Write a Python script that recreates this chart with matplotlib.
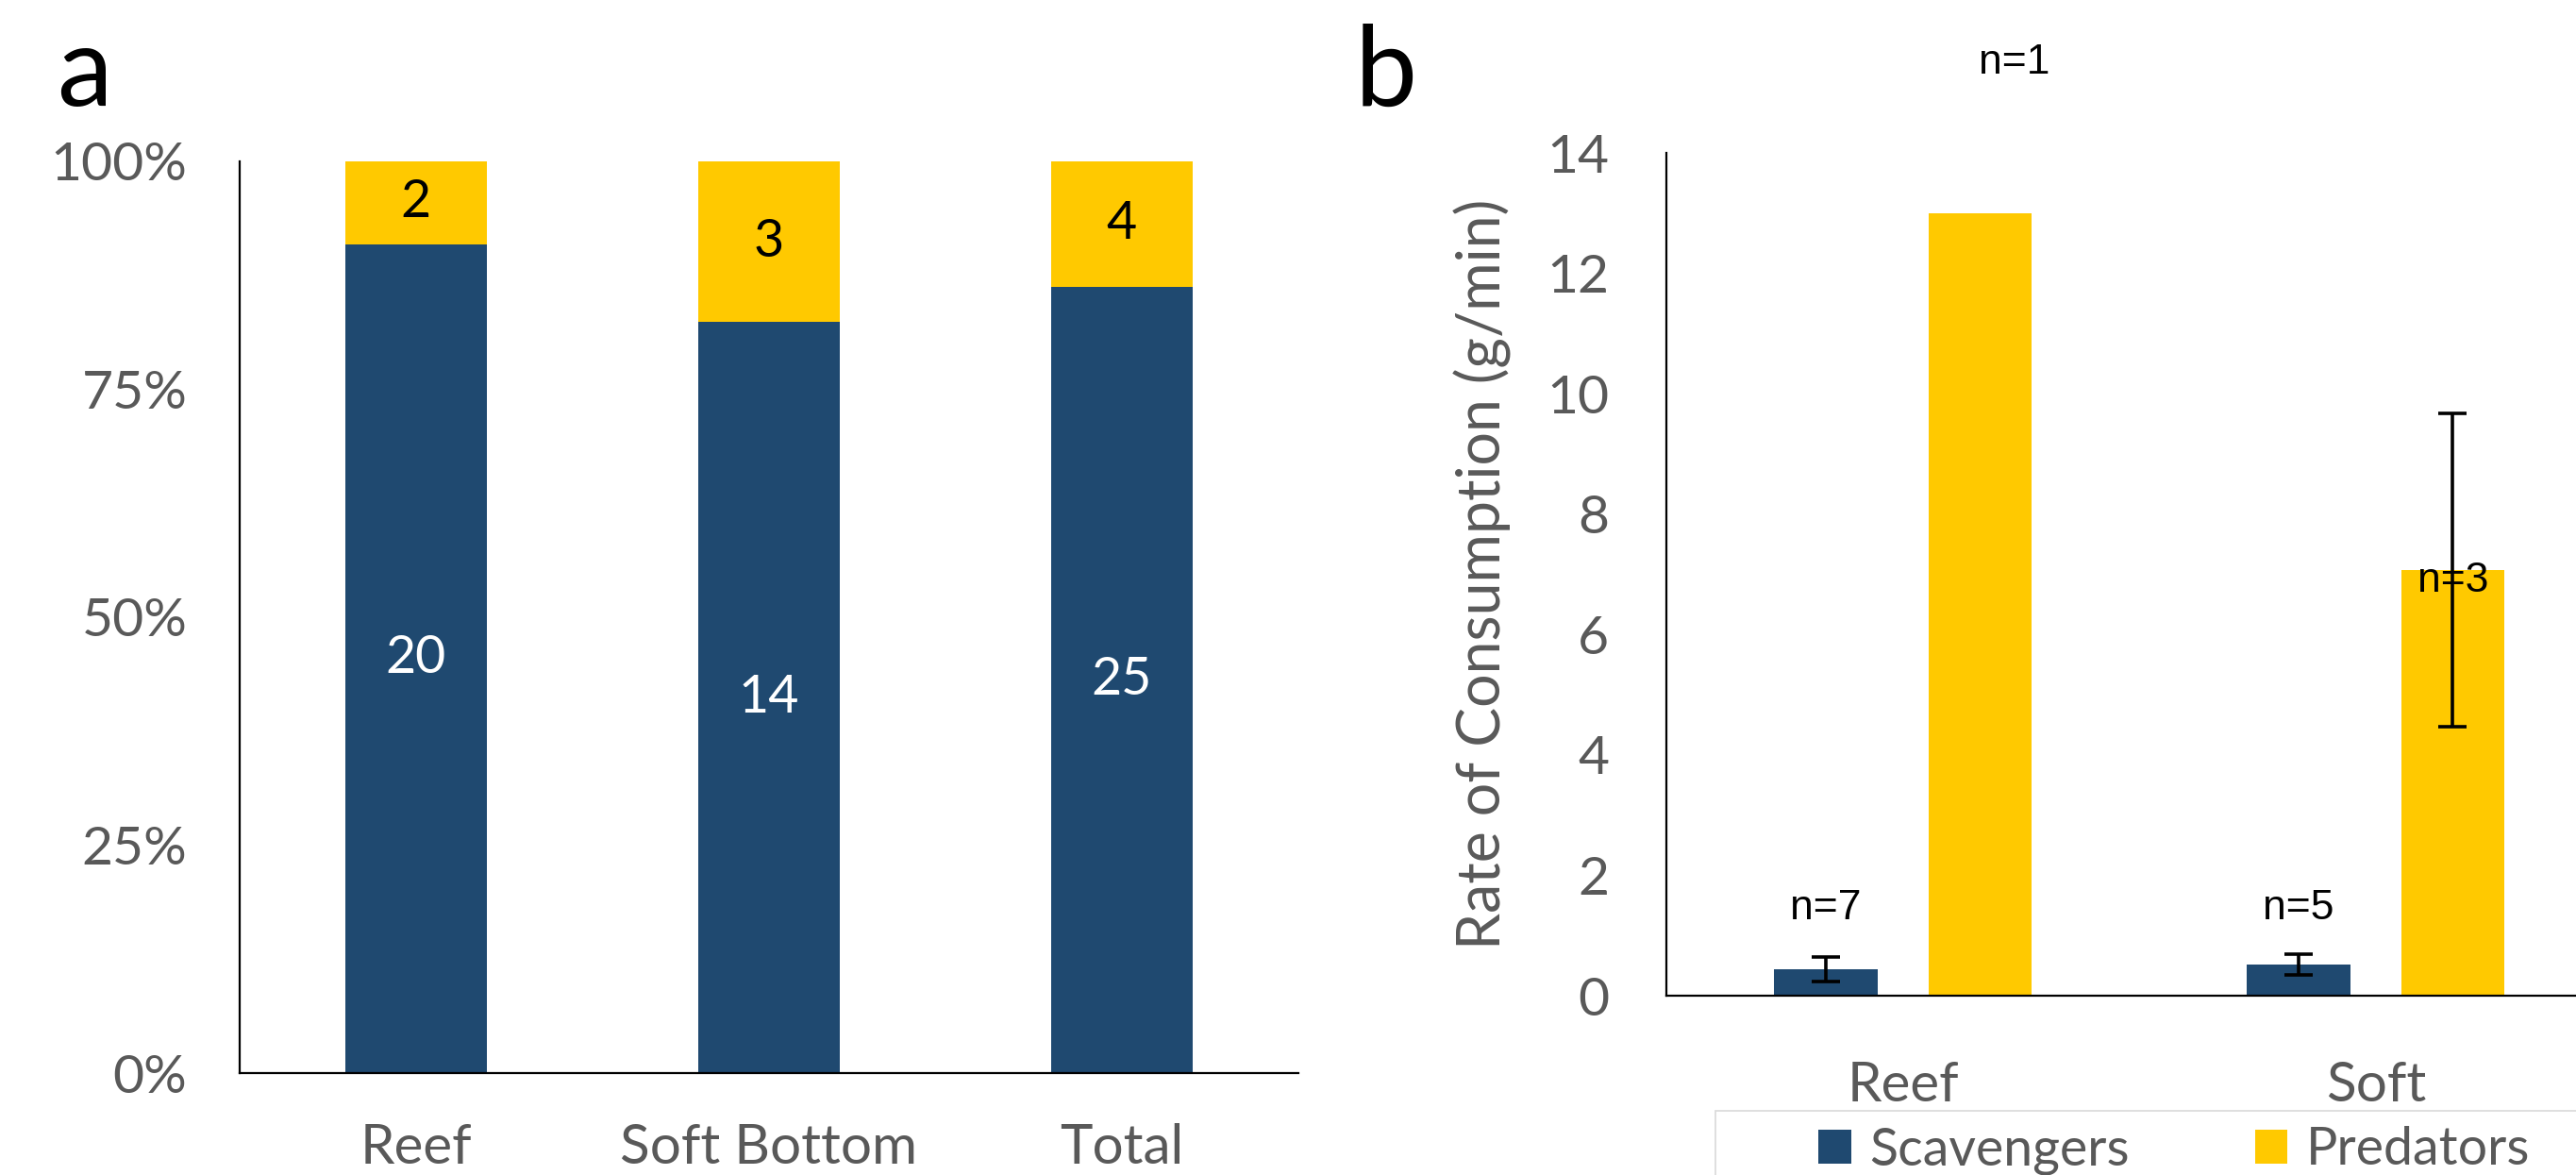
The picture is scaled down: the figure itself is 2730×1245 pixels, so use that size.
import matplotlib

matplotlib.use("Agg")
import matplotlib.pyplot as plt  # noqa: E402
import numpy as np  # noqa: E402
from matplotlib.patches import Patch, Rectangle  # noqa: E402

NAVY = "#1F4970"
GOLD = "#FFC900"
GREY = "#595959"
SANS = ["Lato", "DejaVu Sans"]
ARIAL = ["Liberation Sans", "DejaVu Sans"]

# panel a: number of species per habitat, split by feeding group
habitats = ["Reef", "Soft Bottom", "Total"]
scavenger_counts = [20, 14, 25]
predator_counts = [2, 3, 4]
pct_ticks = [0, 25, 50, 75, 100]

# panel b: mean consumption rate (g/min) with error, and sample sizes
sites = ["Reef", "Soft"]
scav_rate = [0.44, 0.52]
scav_err = [0.20, 0.17]
pred_rate = [13.0, 7.07]
pred_err = [None, 2.6]
scav_n = [7, 5]
pred_n = [1, 3]
rate_ticks = [0, 2, 4, 6, 8, 10, 12, 14]

fig = plt.figure(figsize=(27.3, 12.45), dpi=100)

# ---------------- panel a ----------------
ax_a = fig.add_axes([0.093, 0.0867, 0.411, 0.776])
scav = np.array(scavenger_counts, dtype=float)
pred = np.array(predator_counts, dtype=float)
tot = scav + pred
scav_pct = scav / tot * 100
pred_pct = pred / tot * 100
xa = np.arange(len(habitats))
ax_a.bar(xa, scav_pct, width=0.4, color=NAVY)
ax_a.bar(xa, pred_pct, width=0.4, bottom=scav_pct, color=GOLD)
for i in range(len(habitats)):
    ax_a.text(xa[i], scav_pct[i] / 2, f"{scavenger_counts[i]}", ha="center", va="center",
              color="white", fontsize=40, family=SANS)
    ax_a.text(xa[i], scav_pct[i] + pred_pct[i] / 2, f"{predator_counts[i]}", ha="center",
              va="center", color="black", fontsize=40, family=SANS)
ax_a.set_xlim(-0.5, len(habitats) - 0.5)
ax_a.set_ylim(0, 100)
ax_a.set_yticks(pct_ticks)
ax_a.set_yticklabels([f"{t}%" for t in pct_ticks])
ax_a.set_xticks(xa)
ax_a.set_xticklabels(habitats)

# ---------------- panel b ----------------
ax_b = fig.add_axes([0.647, 0.1526, 0.367, 0.717])
xb = np.arange(len(sites))
off, w = 0.163, 0.219
ax_b.bar(xb - off, scav_rate, width=w, color=NAVY)
ax_b.bar(xb + off, pred_rate, width=w, color=GOLD)
err_style = dict(fmt="none", ecolor="black", elinewidth=2.6, capsize=11, capthick=2.6)
ax_b.errorbar(xb - off, scav_rate, yerr=scav_err, **err_style)
has_err = [i for i, e in enumerate(pred_err) if e is not None]
ax_b.errorbar(xb[has_err] + off, [pred_rate[i] for i in has_err],
              yerr=[pred_err[i] for i in has_err], **err_style)

# sample-size labels
scav_label_y = [1.45, 1.45]
pred_label_y = [15.5, 6.9]
pred_label_dx = [0.073, 0.0]
for i in range(len(sites)):
    ax_b.text(xb[i] - off, scav_label_y[i], f"n={scav_n[i]}", ha="center", va="center",
              fontsize=32, family=ARIAL, color="black")
    ax_b.text(xb[i] + off + pred_label_dx[i], pred_label_y[i], f"n={pred_n[i]}", ha="center",
              va="center", fontsize=32, family=ARIAL, color="black", clip_on=False)

ax_b.set_xlim(-0.5, len(sites) - 0.5)
ax_b.set_ylim(0, 14)
ax_b.set_yticks(rate_ticks)
ax_b.set_xticks(xb)
ax_b.set_xticklabels(sites)
ax_b.set_ylabel("Rate of Consumption (g/min)", fontsize=45, color=GREY, family=SANS)
ax_b.yaxis.set_label_coords(-0.164, 0.5)

for ax, ypad, xpad in ((ax_a, 40, 38), (ax_b, 44, 50)):
    for s in ("top", "right"):
        ax.spines[s].set_visible(False)
    for s in ("left", "bottom"):
        ax.spines[s].set_color("black")
        ax.spines[s].set_linewidth(1.6)
    ax.tick_params(axis="y", length=0, pad=ypad, labelsize=41, labelcolor=GREY)
    ax.tick_params(axis="x", length=0, pad=xpad, labelsize=42, labelcolor=GREY)
    for lab in ax.get_xticklabels() + ax.get_yticklabels():
        lab.set_family(SANS)

# legend box running off the lower right corner
fig.add_artist(Rectangle((0.666, -0.1), 0.4, 0.1546, transform=fig.transFigure,
                         facecolor="white", edgecolor="#D9D9D9", linewidth=1.2))
handles = [Patch(facecolor=NAVY, label="Scavengers"), Patch(facecolor=GOLD, label="Predators")]
fig.legend(handles=handles, loc="center", bbox_to_anchor=(0.844, 0.021), ncol=2,
           frameon=False, prop={"family": SANS, "size": 40}, labelcolor=GREY,
           handlelength=0.62, handleheight=0.62, handletextpad=0.35, columnspacing=2.4)

# panel letters
fig.text(0.022, 0.937, "a", fontsize=85, family=SANS, va="center", ha="left")
fig.text(0.526, 0.937, "b", fontsize=85, family=SANS, va="center", ha="left")

fig.savefig("out.png", dpi=100, facecolor="white")
